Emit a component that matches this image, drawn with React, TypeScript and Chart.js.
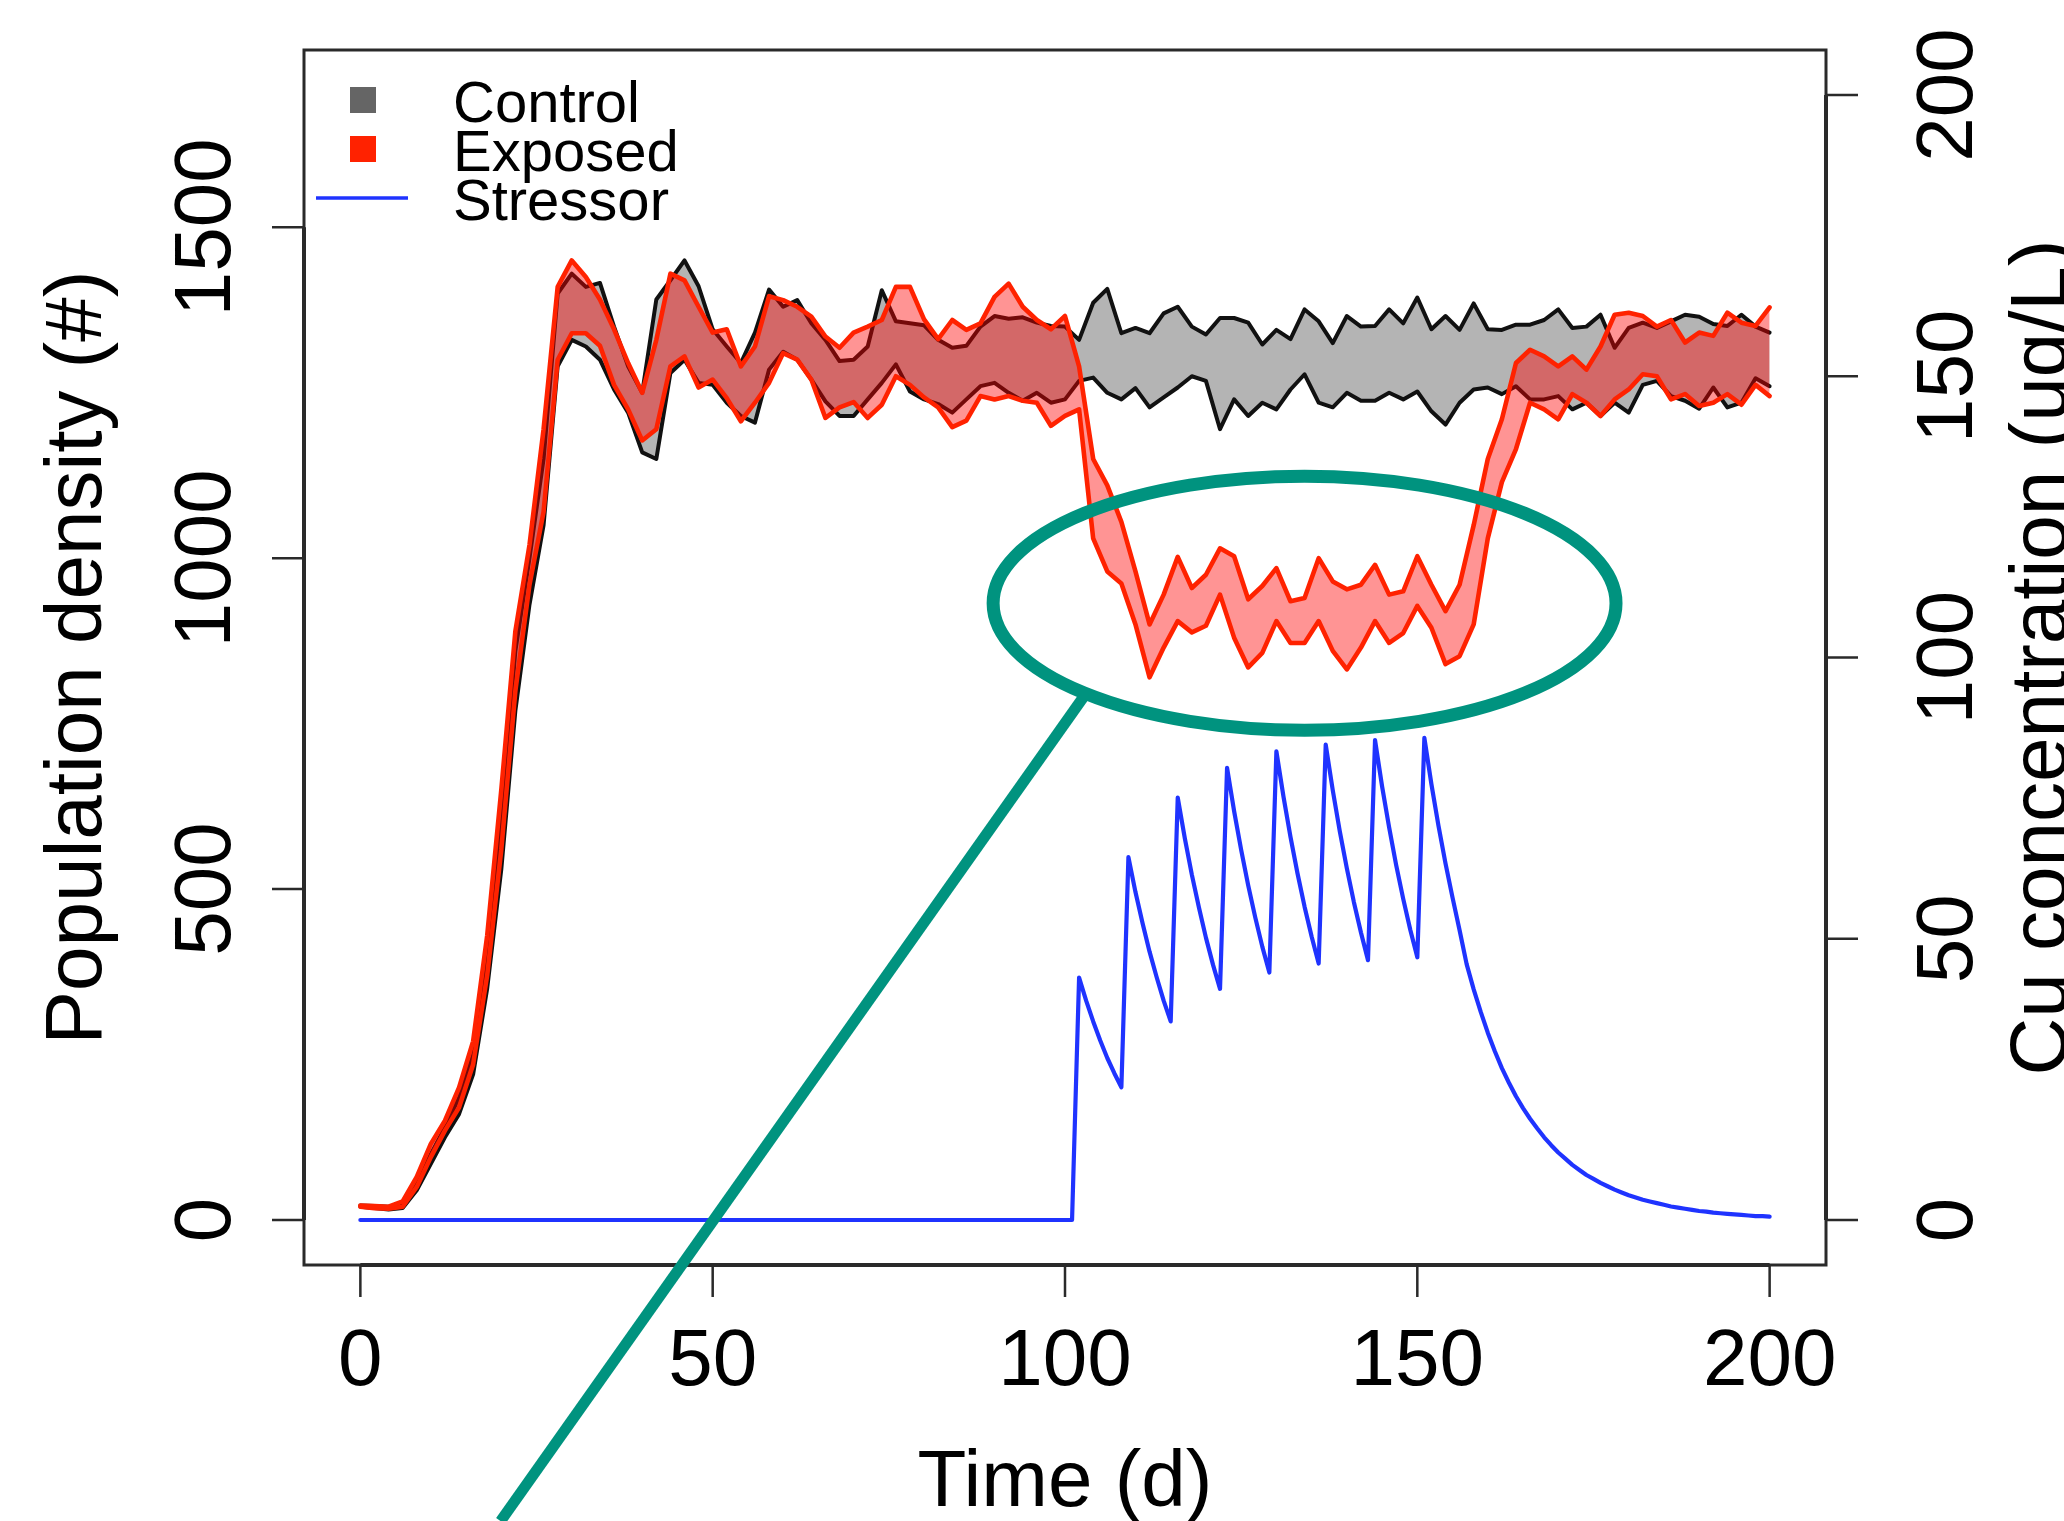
import React, { useEffect, useRef } from "react";
import { Chart, registerables } from "chart.js";

Chart.register(...registerables);

const FONT = '"Liberation Sans", Arial, Helvetica, sans-serif';

// ---- data ----
const DAYS = [
  0, 2, 4, 6, 8, 10, 12, 14, 16, 18, 20, 22, 24, 26, 28, 30, 32, 34, 36, 38, 40,
  42, 44, 46, 48, 50, 52, 54, 56, 58, 60, 62, 64, 66, 68, 70, 72, 74, 76, 78, 80,
  82, 84, 86, 88, 90, 92, 94, 96, 98, 100, 102, 104, 106, 108, 110, 112, 114, 116,
  118, 120, 122, 124, 126, 128, 130, 132, 134, 136, 138, 140, 142, 144, 146, 148,
  150, 152, 154, 156, 158, 160, 162, 164, 166, 168, 170, 172, 174, 176, 178, 180,
  182, 184, 186, 188, 190, 192, 194, 196, 198, 200,
];

const CONTROL_UPPER = [
  22, 21, 20, 24, 55, 100, 140, 185, 250, 400, 610, 860, 1000, 1150, 1400, 1430,
  1410, 1416, 1350, 1290, 1250, 1391, 1420, 1450, 1411, 1346, 1320, 1295, 1341,
  1406, 1380, 1390, 1355, 1330, 1298, 1300, 1320, 1405, 1358, 1355, 1352, 1330,
  1318, 1321, 1350, 1366, 1362, 1364, 1356, 1351, 1350, 1330, 1386, 1407, 1340,
  1348, 1340, 1370, 1380, 1350, 1338, 1363, 1363, 1356, 1323, 1345, 1331, 1376,
  1358, 1325, 1366, 1350, 1351, 1376, 1355, 1394, 1346, 1366, 1345, 1385, 1346,
  1345, 1353, 1353, 1360, 1376, 1348, 1350, 1368, 1318, 1348, 1356, 1348, 1358,
  1368, 1365, 1354, 1351, 1368, 1350, 1341,
];

const CONTROL_LOWER = [
  20, 18, 16, 18, 45, 85, 125, 160, 220, 350, 530, 770, 930, 1050, 1290, 1330,
  1320, 1300, 1255, 1220, 1160, 1150, 1280, 1300, 1265, 1262, 1235, 1215, 1205,
  1285, 1312, 1300, 1270, 1237, 1215, 1215, 1240, 1265, 1293, 1252, 1240, 1233,
  1220, 1240, 1260, 1265, 1250, 1238, 1250, 1235, 1240, 1268, 1273, 1250, 1240,
  1257, 1228, 1243, 1258, 1275, 1268, 1195, 1240, 1215, 1235, 1225, 1255, 1278,
  1235, 1228, 1250, 1238, 1238, 1250, 1240, 1252, 1222, 1202, 1235, 1255, 1258,
  1248, 1260, 1240, 1240, 1245, 1225, 1235, 1215, 1235, 1220, 1262, 1268, 1245,
  1238, 1226, 1258, 1228, 1235, 1272, 1260,
];

const EXPOSED_UPPER = [
  22, 21, 20, 28, 65, 115, 150, 200, 270, 430, 650, 890, 1020, 1195, 1410, 1450,
  1425, 1391, 1346, 1295, 1250, 1330, 1430, 1420, 1380, 1341, 1346, 1290, 1320,
  1396, 1390, 1380, 1365, 1335, 1318, 1341, 1350, 1360, 1410, 1410, 1361, 1331,
  1360, 1345, 1355, 1395, 1415, 1380, 1360, 1346, 1366, 1290, 1150, 1110, 1055,
  980, 900, 945, 1002, 955, 975, 1015, 1003, 938, 958, 985, 935, 940, 1000, 965,
  953, 960, 990, 945, 950, 1003, 960, 920, 960, 1050, 1150, 1210, 1295, 1315,
  1305, 1290, 1305, 1285, 1320, 1368, 1371, 1366, 1350, 1360, 1326, 1341, 1336,
  1371, 1356, 1351, 1379,
];

const EXPOSED_LOWER = [
  20, 18, 17, 20, 50, 95, 135, 170, 235, 370, 560, 800, 960, 1070, 1300, 1340,
  1340, 1321, 1262, 1225, 1178, 1195, 1290, 1305, 1258, 1270, 1242, 1207, 1235,
  1265, 1310, 1300, 1270, 1212, 1228, 1236, 1212, 1232, 1275, 1262, 1243, 1228,
  1198, 1208, 1245, 1240, 1245, 1238, 1235, 1200, 1215, 1225, 1030, 980, 962,
  900, 820, 865, 905, 888, 898, 945, 880, 835, 857, 905, 872, 872, 905, 860, 832,
  865, 905, 872, 887, 928, 895, 840, 852, 900, 1030, 1115, 1165, 1235, 1225, 1210,
  1248, 1235, 1215, 1240, 1255, 1278, 1275, 1240, 1248, 1230, 1235, 1248, 1232,
  1262, 1245,
];

const STRESS_DAYS = [
  0, 101, 102, 103, 104, 105, 106, 107, 108, 109, 110, 111, 112, 113, 114, 115,
  116, 117, 118, 119, 120, 121, 122, 123, 124, 125, 126, 127, 128, 129, 130, 131,
  132, 133, 134, 135, 136, 137, 138, 139, 140, 141, 142, 143, 144, 145, 146, 147,
  148, 149, 150, 151, 152, 153, 154, 155, 156, 157, 158, 159, 160, 161, 162, 163,
  164, 165, 166, 167, 168, 169, 170, 171, 172, 173, 174, 175, 176, 177, 178, 179,
  180, 181, 182, 183, 184, 185, 186, 187, 188, 189, 190, 191, 192, 193, 194, 195,
  196, 197, 198, 199, 200,
];

const STRESS_VALUES = [
  0, 0, 43.1, 39.0, 35.3, 31.9, 28.8, 26.1, 23.6, 64.5, 58.3, 52.8, 47.7, 43.2,
  39.0, 35.3, 75.1, 67.9, 61.4, 55.6, 50.2, 45.4, 41.1, 80.4, 72.7, 65.8, 59.5,
  53.8, 48.6, 44.0, 83.3, 75.3, 68.1, 61.6, 55.7, 50.4, 45.6, 84.5, 76.4, 69.1,
  62.5, 56.5, 51.1, 46.2, 85.3, 77.1, 69.8, 63.1, 57.1, 51.6, 46.7, 85.7, 77.5,
  70.1, 63.4, 57.3, 51.5, 45.5, 41.0, 37.0, 33.3, 30.0, 27.0, 24.4, 22.0, 19.9,
  18.0, 16.3, 14.7, 13.3, 12.0, 10.9, 9.8, 8.9, 8.0, 7.3, 6.6, 6.0, 5.4, 4.9, 4.4,
  4.0, 3.6, 3.3, 3.0, 2.7, 2.4, 2.2, 2.0, 1.8, 1.6, 1.5, 1.3, 1.2, 1.1, 1.0, 0.9,
  0.8, 0.7, 0.7, 0.6,
];

const X_TICKS = [0, 50, 100, 150, 200];
const Y_TICKS = [0, 500, 1000, 1500];
const Y2_TICKS = [0, 50, 100, 150, 200];

const X_TITLE = "Time (d)";
const Y_TITLE = "Population density (#)";
const Y2_TITLE = "Cu concentration (ug/L)";

const LEGEND_ITEMS = [
  { label: "Control", kind: "square", color: "#656565" },
  { label: "Exposed", kind: "square", color: "#ff2200" },
  { label: "Stressor", kind: "line", color: "#1f33ff" },
];

// annotation (data units: day on x, population on left axis)
const HIGHLIGHT = { day: 134.0, value: 932, halfDays: 44.2, halfValue: 192 };
const POINTER = { fromDay: 102.6, fromValue: 790, toDay: 19.9, toValue: -455 };

const COLORS = {
  control: "#111111",
  controlFill: "#b4b4b4",
  exposed: "#ff2200",
  exposedFill: "rgba(255, 0, 0, 0.42)",
  stressor: "#1f33ff",
  axis: "#2a2a2a",
  teal: "#00937f",
};

function pts(xs: number[], ys: number[]) {
  return xs.map((x, i) => ({ x, y: ys[i] }));
}

const rStylePlugin = {
  id: "rStyle",
  afterDraw(chart: any) {
    const { ctx, chartArea: a, scales } = chart;
    const x = scales.x;
    const y = scales.y;
    const y2 = scales.y2;
    const tick = 32;
    ctx.save();

    // plot box
    ctx.strokeStyle = COLORS.axis;
    ctx.lineWidth = 3;
    ctx.strokeRect(a.left, a.top, a.right - a.left, a.bottom - a.top);

    // axis lines
    ctx.lineWidth = 4;
    ctx.beginPath();
    ctx.moveTo(x.getPixelForValue(X_TICKS[0]), a.bottom);
    ctx.lineTo(x.getPixelForValue(X_TICKS[X_TICKS.length - 1]), a.bottom);
    ctx.moveTo(a.left, y.getPixelForValue(Y_TICKS[0]));
    ctx.lineTo(a.left, y.getPixelForValue(Y_TICKS[Y_TICKS.length - 1]));
    ctx.moveTo(a.right, y2.getPixelForValue(Y2_TICKS[0]));
    ctx.lineTo(a.right, y2.getPixelForValue(Y2_TICKS[Y2_TICKS.length - 1]));
    ctx.stroke();

    // ticks
    ctx.lineWidth = 2.5;
    ctx.beginPath();
    X_TICKS.forEach((t) => {
      const px = x.getPixelForValue(t);
      ctx.moveTo(px, a.bottom);
      ctx.lineTo(px, a.bottom + tick);
    });
    Y_TICKS.forEach((t) => {
      const py = y.getPixelForValue(t);
      ctx.moveTo(a.left, py);
      ctx.lineTo(a.left - tick, py);
    });
    Y2_TICKS.forEach((t) => {
      const py = y2.getPixelForValue(t);
      ctx.moveTo(a.right, py);
      ctx.lineTo(a.right + tick, py);
    });
    ctx.stroke();

    // tick labels
    ctx.fillStyle = "#000";
    ctx.font = `80px ${FONT}`;
    ctx.textAlign = "center";
    ctx.textBaseline = "alphabetic";
    X_TICKS.forEach((t) => {
      ctx.fillText(String(t), x.getPixelForValue(t), a.bottom + 120);
    });
    const rotText = (txt: string, px: number, py: number) => {
      ctx.save();
      ctx.translate(px, py);
      ctx.rotate(-Math.PI / 2);
      ctx.fillText(txt, 0, 0);
      ctx.restore();
    };
    Y_TICKS.forEach((t) => rotText(String(t), a.left - 74, y.getPixelForValue(t)));
    Y2_TICKS.forEach((t) => rotText(String(t), a.right + 146, y2.getPixelForValue(t)));

    // axis titles
    const cy = (a.top + a.bottom) / 2;
    ctx.fillText(X_TITLE, (a.left + a.right) / 2, a.bottom + 241);
    rotText(Y_TITLE, a.left - 203, cy);
    rotText(Y2_TITLE, a.right + 240, cy);

    // legend
    ctx.font = `58px ${FONT}`;
    ctx.textAlign = "left";
    LEGEND_ITEMS.forEach((item, i) => {
      const base = a.top + 72 + i * 49;
      const sy = base - 22;
      if (item.kind === "square") {
        ctx.fillStyle = item.color;
        ctx.fillRect(a.left + 46, sy - 13, 26, 26);
      } else {
        ctx.strokeStyle = item.color;
        ctx.lineWidth = 3.5;
        ctx.beginPath();
        ctx.moveTo(a.left + 12, sy);
        ctx.lineTo(a.left + 104, sy);
        ctx.stroke();
      }
      ctx.fillStyle = "#000";
      ctx.fillText(item.label, a.left + 149, base);
    });

    // highlight ellipse + pointer line
    const ex = x.getPixelForValue(HIGHLIGHT.day);
    const ey = y.getPixelForValue(HIGHLIGHT.value);
    const rx = x.getPixelForValue(HIGHLIGHT.day + HIGHLIGHT.halfDays) - ex;
    const ry = ey - y.getPixelForValue(HIGHLIGHT.value + HIGHLIGHT.halfValue);
    ctx.strokeStyle = COLORS.teal;
    ctx.lineWidth = 13;
    ctx.beginPath();
    ctx.ellipse(ex, ey, rx, ry, 0, 0, Math.PI * 2);
    ctx.stroke();
    ctx.lineWidth = 11;
    ctx.beginPath();
    ctx.moveTo(x.getPixelForValue(POINTER.fromDay), y.getPixelForValue(POINTER.fromValue));
    ctx.lineTo(x.getPixelForValue(POINTER.toDay), y.getPixelForValue(POINTER.toValue));
    ctx.stroke();

    ctx.restore();
  },
};

export default function App() {
  const canvasRef = useRef<HTMLCanvasElement | null>(null);

  useEffect(() => {
    const canvas = canvasRef.current;
    if (!canvas) return;
    const lineBase = {
      pointRadius: 0,
      pointHoverRadius: 0,
      tension: 0,
      borderJoinStyle: "round" as const,
      borderCapStyle: "round" as const,
    };
    const chart = new Chart(canvas, {
      type: "line",
      data: {
        datasets: [
          {
            ...lineBase,
            label: "Stressor",
            data: pts(STRESS_DAYS, STRESS_VALUES),
            borderColor: COLORS.stressor,
            borderWidth: 4.2,
            yAxisID: "y2",
            fill: false,
          },
          {
            ...lineBase,
            label: "Exposed upper",
            data: pts(DAYS, EXPOSED_UPPER),
            borderColor: COLORS.exposed,
            borderWidth: 4.6,
            yAxisID: "y",
            fill: false,
          },
          {
            ...lineBase,
            label: "Exposed lower",
            data: pts(DAYS, EXPOSED_LOWER),
            borderColor: COLORS.exposed,
            borderWidth: 4.6,
            backgroundColor: COLORS.exposedFill,
            yAxisID: "y",
            fill: "-1",
          },
          {
            ...lineBase,
            label: "Control upper",
            data: pts(DAYS, CONTROL_UPPER),
            borderColor: COLORS.control,
            borderWidth: 4,
            yAxisID: "y",
            fill: false,
          },
          {
            ...lineBase,
            label: "Control lower",
            data: pts(DAYS, CONTROL_LOWER),
            borderColor: COLORS.control,
            borderWidth: 4,
            backgroundColor: COLORS.controlFill,
            yAxisID: "y",
            fill: "-1",
          },
        ],
      },
      options: {
        responsive: false,
        animation: false,
        devicePixelRatio: 1,
        events: [],
        layout: { padding: { left: 304, right: 238, top: 50, bottom: 256 } },
        plugins: {
          legend: { display: false },
          tooltip: { enabled: false },
          filler: { propagate: false },
        },
        scales: {
          x: { type: "linear", min: -8, max: 208, bounds: "data", display: false },
          y: { type: "linear", min: -68, max: 1768, bounds: "data", display: false },
          y2: { type: "linear", min: -8, max: 208, bounds: "data", display: false, position: "right" },
        },
      },
      plugins: [rStylePlugin],
    });
    return () => chart.destroy();
  }, []);

  return (
    <div style={{ position: "fixed", left: 0, top: 0, width: 2064, height: 1521, background: "#fff" }}>
      <canvas ref={canvasRef} width={2064} height={1521} style={{ display: "block" }} />
    </div>
  );
}
